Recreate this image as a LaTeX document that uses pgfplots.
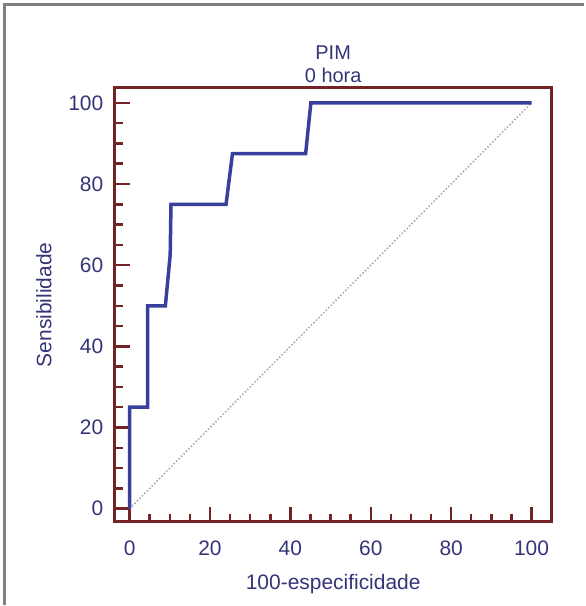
\documentclass[border=0pt]{standalone}
\usepackage{fontspec}
\setmainfont{Liberation Sans}
\usepackage{pgfplots}
\pgfplotsset{compat=1.18}
\definecolor{axbrown}{RGB}{115,35,35}
\definecolor{txtblue}{RGB}{52,52,120}
\definecolor{rocblue}{RGB}{55,65,155}
\begin{document}
\begin{tikzpicture}
\begin{axis}[
  name=ax,
  scale only axis,
  width=438bp, height=435bp,
  xmin=-3.7, xmax=105, ymin=-3.2, ymax=103.7,
  axis line style={axbrown, line width=3bp},
  xtick={0,20,...,100}, ytick={0,20,...,100},
  minor x tick num=3, minor y tick num=3,
  tick align=inside,
  xtick pos=bottom, ytick pos=left,
  major tick length=15bp, minor tick length=8bp,
  every tick/.style={axbrown, line width=2.5bp},
  every minor tick/.style={axbrown, line width=2.5bp},
  /pgf/number format/assume math mode=true,
  ticklabel style={font=\fontsize{21bp}{25bp}\selectfont, text=txtblue},
  xticklabel style={yshift=-16bp},
  yticklabel style={xshift=-8bp},
  title={PIM\\0 hora},
  title style={align=center, font=\fontsize{20bp}{23bp}\selectfont, text=txtblue, yshift=-4bp},
  xlabel={100-especificidade},
  ylabel={Sensibilidade},
  label style={font=\fontsize{21bp}{25bp}\selectfont, text=txtblue},
  xlabel style={yshift=-12bp},
  ylabel style={yshift=10bp},
  clip=false,
]
\addplot[gray!70, dotted, line width=1.5bp] coordinates {(0,0) (100,100)};
\addplot[rocblue, line width=3.5bp, line join=miter] coordinates {
  (0,0) (0,25) (4.5,25) (4.5,50) (8.9,50) (10.1,62.5) (10.3,75)
  (24,75) (25.6,87.5) (43.8,87.5) (45.1,100) (100,100)};
\end{axis}
\draw[gray, line width=3bp] ([shift={(-110bp,-83bp)}]ax.south west) -- ([shift={(-110bp,83bp)}]ax.north west) -- ([shift={(32bp,83bp)}]ax.north east);
\path[use as bounding box] ([shift={(-115bp,-83bp)}]ax.south west) rectangle ([shift={(32bp,88bp)}]ax.north east);
\end{tikzpicture}
\end{document}
